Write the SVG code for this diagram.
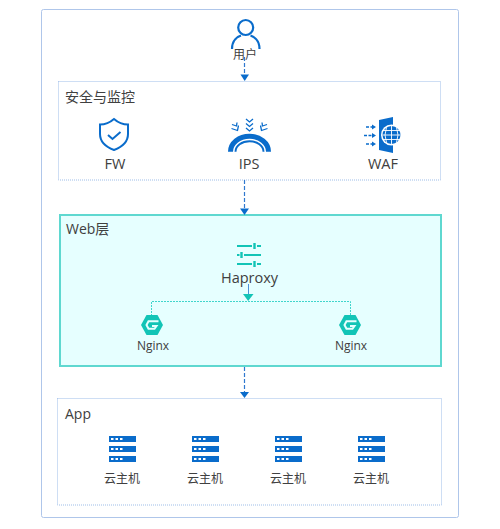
<svg xmlns="http://www.w3.org/2000/svg" width="500" height="529" viewBox="0 0 500 529">
<style>
text{font-family:"Open Sans","Noto Sans CJK SC",sans-serif;fill:#404040;text-anchor:middle}
.t{text-anchor:start;font-size:14px}
.l{font-size:14.500px}
.s{font-size:12px}
.dot{fill:#fff;stroke:#9dbde8;stroke-width:1;stroke-dasharray:1 1}
.b{fill:none;stroke:#0a6ccb}
.g{fill:none;stroke:#12c4b6}
.bf{fill:#0a6ccb}
.gf{fill:#12c4b6}
.cb{fill:none;stroke:#2f78cf;stroke-width:1.200;stroke-dasharray:4 2}
.cg{fill:none;stroke:#40d5cc;stroke-width:1;stroke-dasharray:2 1}
</style>
<defs>
<g id="srv"><rect width="27" height="6" class="bf"/><rect y="10" width="27" height="6" class="bf"/><rect y="20" width="27" height="6" class="bf"/>
<path d="M2 2h2.500v2h-2.500zM6.500 2h2.500v2h-2.500zM11 2h2.500v2h-2.500zM2 12h2.500v2h-2.500zM6.500 12h2.500v2h-2.500zM11 12h2.500v2h-2.500zM2 22h2.500v2h-2.500zM6.500 22h2.500v2h-2.500zM11 22h2.500v2h-2.500z" fill="#fff"/></g>
<g id="ng"><path d="M-5.500 -10H5.500L11 0L5.500 10H-5.500L-11 0Z" class="gf"/><path d="M6.500 -3.800H-3.500L-5.500 0L-3.500 3.800H2.500L4.500 1H0" fill="none" stroke="#e6ffff" stroke-width="2"/></g>
</defs>
<rect id="outer" x="41.500" y="9.500" width="417" height="508" rx="2" fill="#fff" stroke="#afc6ea"/>

<g id="security"><rect class="dot" x="58.500" y="81.500" width="382" height="98.500"/><text class="t" x="65" y="102">安全与监控</text></g>
<g id="web"><rect x="60" y="215" width="381" height="151" fill="#e6ffff" stroke="#5fd8d0" stroke-width="2"/><text class="t" x="66" y="234">Web层</text></g>
<g id="app"><rect class="dot" x="57.500" y="398.500" width="384" height="106.500"/><text class="t" x="65" y="419">App</text></g>

<g id="connectors">
<path class="cb" d="M244.500 57V75"/><path class="bf" d="M240.500 74.500H249L244.700 81Z"/>
<path class="cb" d="M244.500 180V209"/><path class="bf" d="M240 208.500H249L244.500 215Z"/>
<path class="cb" d="M244.500 367V393"/><path class="bf" d="M240 392H249L244.500 398Z"/>
<path d="M248.500 284V295" fill="none" stroke="#4a90d9" stroke-width="1"/><path class="gf" d="M243 294H253.500L248.200 301Z"/>
<path class="cg" d="M151.500 316V301.500H350.500V316"/>
</g>

<g id="user"><circle cx="245.700" cy="27.500" r="7.500" class="b" stroke-width="2.200"/><path d="M232 49C232 40 238 36.500 241 35.500M259.500 49C259.500 40 253.500 36.500 250.500 35.500" class="b" stroke-width="2.200"/><text class="s" x="245" y="59">用户</text></g>

<g id="fw"><path d="M114 119C110 122.500 105 124.500 100 124.500V134C100 142 106 147 114 150C122 147 128 142 128 134V124.500C123 124.500 118 122.500 114 119Z" class="b" stroke-width="2"/><path d="M108 135L112.500 139L120.500 132" class="b" stroke-width="2"/><text class="l" x="115" y="169">FW</text></g>

<g id="ips"><path d="M230.500 151.700A19 15.500 0 0 1 268.500 151.700" class="b" stroke-width="5"/><path d="M235.500 151.700A14 10.500 0 0 1 263.500 151.700" class="b" stroke-width="2"/>
<path d="M246 119L249.500 122L253 119M246 123.500L249.500 126.500L253 123.500M246 128L249.500 131L253 128" class="b" stroke-width="1.300"/>
<path d="M232 124.500L236.500 126L237 122.500M231.500 128.500L237.500 130.500L238.500 125.500M267 124.500L262.500 126L262 122.500M267.500 128.500L261.500 130.500L260.500 125.500" class="b" stroke-width="1.300"/>
<text class="l" x="249" y="169">IPS</text></g>

<g id="waf"><path d="M379 120L393 117V153L379 150Z" class="bf"/><circle cx="391.500" cy="135" r="10.500" fill="#fff"/><circle cx="391.500" cy="135" r="9" class="bf"/>
<path d="M391.500 126V144M386.500 127.500Q383.500 135 386.500 142.500M396.500 127.500Q399.500 135 396.500 142.500M383 130.500H400M382.500 135H400.500M383 139.500H400" fill="none" stroke="#fff" stroke-width="0.900"/>
<path d="M366 127H372M364 135.500H372M366 144H372" fill="none" stroke="#0a6ccb" stroke-width="1.500" stroke-dasharray="3 1.500"/>
<path d="M372 124.500L376 127L372 129.500ZM372 133L376 135.500L372 138ZM372 141.500L376 144L372 146.500Z" class="bf"/>
<text class="l" x="383" y="169">WAF</text></g>

<g id="haproxy"><path d="M237 246H252M257 246H261M237 255H239.500M244 255H261M237 264H252M257 264H261" class="g" stroke-width="2"/><path d="M254.500 243V249M241.500 252V258M254.500 261V267" class="g" stroke-width="2.400"/><text class="l" x="249.500" y="283">Haproxy</text></g>

<g id="nginx1"><use href="#ng" x="152" y="325"/><text class="s" x="153" y="350">Nginx</text></g>
<g id="nginx2"><use href="#ng" x="350" y="325"/><text class="s" x="351" y="350">Nginx</text></g>

<g id="vm1"><use href="#srv" x="109" y="436"/><text class="s" x="122" y="483">云主机</text></g>
<g id="vm2"><use href="#srv" x="192" y="436"/><text class="s" x="205" y="483">云主机</text></g>
<g id="vm3"><use href="#srv" x="275" y="436"/><text class="s" x="288" y="483">云主机</text></g>
<g id="vm4"><use href="#srv" x="358" y="436"/><text class="s" x="371" y="483">云主机</text></g>
</svg>
